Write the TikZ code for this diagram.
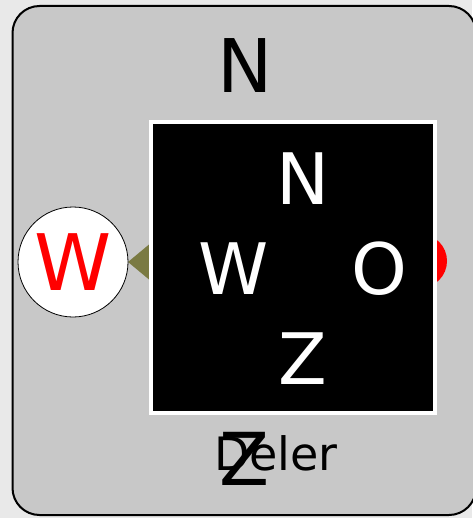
\documentclass[tikz,border=0pt]{standalone}
\usepackage{fontspec}
\setmainfont{DejaVu Sans}
\definecolor{outerbg}{RGB}{233,233,233}
\definecolor{panelgray}{RGB}{200,200,200}
\definecolor{olivetip}{RGB}{122,122,66}
\tikzset{
  bigletter/.style={inner sep=0pt, outer sep=0pt},
  portcircle/.style={circle, draw=black, line width=0.8pt, fill=white, minimum size=110pt, inner sep=0pt},
}
\newcommand{\fs}[1]{\fontsize{#1}{#1}\selectfont}
\begin{document}
\begin{tikzpicture}[x=1pt, y=-1pt]
\useasboundingbox (0,0) rectangle (472,518);
\fill[outerbg] (0,0) rectangle (472,518);
% panel
\draw[line width=2pt, fill=panelgray, rounded corners=27pt] (12.5,6) rectangle (476,515) ;
\node (panel) at (244,260) {};
% top label
\node[bigletter, font=\fs{74}] (topN) at (245.5,66) {N};
% red circle on the right (behind the block)
\node[circle, fill=red, minimum size=54pt, inner sep=0pt] (redport) at (420,261) {};
% olive triangle
\coordinate (tip) at (128,262);
\fill[olivetip] (tip) -- (152,242) -- (152,282) -- cycle;
% left port circle
\node[portcircle] (west) at (73,262) {};
\node[bigletter, text=red, font=\fs{78}] (westW) at (west.center) {W};
% black block
\node[draw=white, line width=4pt, fill=black, minimum width=284pt, minimum height=290pt, inner sep=0pt] (block) at (293,267.5) {};
\node[bigletter, text=white, font=\fs{71}] (bN) at (303.5,179) {N};
\node[bigletter, text=white, font=\fs{71}] (bW) at (233.5,269) {W};
\node[bigletter, text=white, font=\fs{71}] (bO) at (379,269) {O};
\node[bigletter, text=white, font=\fs{71}] (bZ) at (302.5,358.5) {Z};
% bottom labels
\node[bigletter, anchor=base, font=\fs{46}] (deler) at (276,470) {Deler};
\node[bigletter, font=\fs{73}] (botZ) at (244.5,458.5) {Z};
\end{tikzpicture}
\end{document}
